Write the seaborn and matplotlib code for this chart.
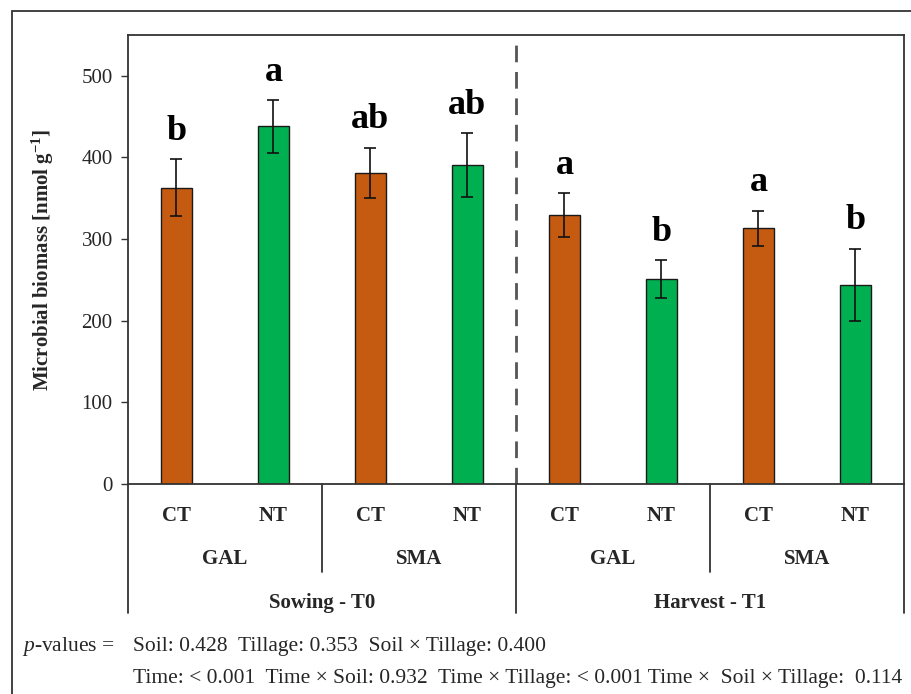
import pandas as pd
import numpy as np
import matplotlib
matplotlib.use('Agg')
import matplotlib.pyplot as plt
import matplotlib.transforms as mtransforms
from matplotlib.patches import Rectangle
import seaborn as sns

# Data
timeLabels = ['Sowing - T0', 'Harvest - T1']
soilLabels = ['GAL', 'SMA']
tillageLabels = ['CT', 'NT']
biomassValues = [363, 438, 381, 391, 329, 251, 313, 244]
biomassErrors = [35, 32, 31, 39, 27, 23, 22, 44]
letterLabels = ['b', 'a', 'ab', 'ab', 'a', 'b', 'a', 'b']

# Build long table
rows = []
for t in timeLabels:
    for s in soilLabels:
        for till in tillageLabels:
            rows.append({'time': t, 'soil': s, 'tillage': till, 'group': f'{t}|{s}|{till}'})
dataFrame = pd.DataFrame(rows)
dataFrame['biomass'] = biomassValues
dataFrame['err'] = biomassErrors

sns.set_style('white')
plt.rcParams['font.family'] = ['Liberation Serif', 'DejaVu Serif']
plt.rcParams['mathtext.fontset'] = 'custom'
plt.rcParams['mathtext.rm'] = 'Liberation Serif'
plt.rcParams['mathtext.it'] = 'Liberation Serif:italic'
plt.rcParams['mathtext.bf'] = 'Liberation Serif:bold'

fig = plt.figure(figsize=(9.12, 6.94), dpi=100)
ax = fig.add_axes([128 / 912, 1 - 484 / 694, 776 / 912, 449 / 694])

palette = {'CT': '#C55A11', 'NT': '#00B050'}
sns.barplot(data=dataFrame, x='group', y='biomass', hue='tillage', dodge=False,
            palette=palette, saturation=1, width=0.316, edgecolor='#1a1a1a',
            linewidth=1.0, legend=False, ax=ax, order=list(dataFrame['group']))

xPos = np.arange(len(dataFrame))
ax.errorbar(xPos, dataFrame['biomass'], yerr=dataFrame['err'], fmt='none',
            ecolor='#111111', elinewidth=1.2, capsize=4, capthick=1.2, zorder=5)

# Significance letters
for x, v, e, lab in zip(xPos, dataFrame['biomass'], dataFrame['err'], letterLabels):
    ax.text(x, v + e + 14, lab, ha='center', va='bottom', fontsize=26,
            fontweight='bold', color='black')

ax.set_xlim(-0.5, len(dataFrame) - 0.5)
ax.set_ylim(0, 550)
ax.set_yticks(range(0, 501, 100))
ax.tick_params(axis='y', direction='out', length=5, width=1, labelsize=15,
               color='#333333', left=True, pad=6)
ax.set_ylabel(r'Microbial biomass [nmol g$^{\mathbf{-1}}$]', fontsize=15,
              fontweight='bold', labelpad=18)

ax.set_xticks(xPos)
ax.set_xticklabels(list(dataFrame['tillage']), fontsize=15, fontweight='bold')
ax.tick_params(axis='x', length=0, pad=16)
ax.set_xlabel('')

for sp in ax.spines.values():
    sp.set_visible(True)
    sp.set_color('#333333')
    sp.set_linewidth(1.3)

# Dashed separator between sowing and harvest
ax.plot([3.5, 3.5], [0, 542], linestyle=(0, (6, 3.5)), color='#555555',
        linewidth=2, zorder=1)

# Group lines and labels under the axis
trans = mtransforms.blended_transform_factory(ax.transData, ax.transAxes)
for xb in [-0.5, 3.5, 7.5]:
    ax.plot([xb, xb], [0, -0.288], transform=trans, color='#333333',
            linewidth=1.3, clip_on=False)
for xb in [1.5, 5.5]:
    ax.plot([xb, xb], [0, -0.196], transform=trans, color='#333333',
            linewidth=1.3, clip_on=False)

for i, t in enumerate(timeLabels):
    ax.text(1.5 + 4 * i, -0.265, t, transform=trans, ha='center', va='center',
            fontsize=15, fontweight='bold')
    for j, s in enumerate(soilLabels):
        ax.text(0.5 + 4 * i + 2 * j, -0.168, s, transform=trans, ha='center',
                va='center', fontsize=15, fontweight='bold')

# p-values footnote
fs = 15.5
fig.text(22 / 912, 1 - 646 / 694, r'$\mathit{p}$-values =', ha='left', va='center',
         fontsize=fs)
fig.text(133 / 912, 1 - 646 / 694, 'Soil: 0.428  Tillage: 0.353  Soil \u00d7 Tillage: 0.400',
         ha='left', va='center', fontsize=fs)
fig.text(133 / 912, 1 - 679 / 694,
         'Time: < 0.001  Time \u00d7 Soil: 0.932  Time \u00d7 Tillage: < 0.001 Time \u00d7  Soil \u00d7 Tillage:  0.114',
         ha='left', va='center', fontsize=fs)

# Outer frame
fig.patches.append(Rectangle((12 / 912, -0.1), 1.2, 1 - 11 / 694 + 0.1,
                             transform=fig.transFigure, fill=False,
                             edgecolor='#333333', linewidth=1.3))

fig.savefig('out.png', dpi=100)
